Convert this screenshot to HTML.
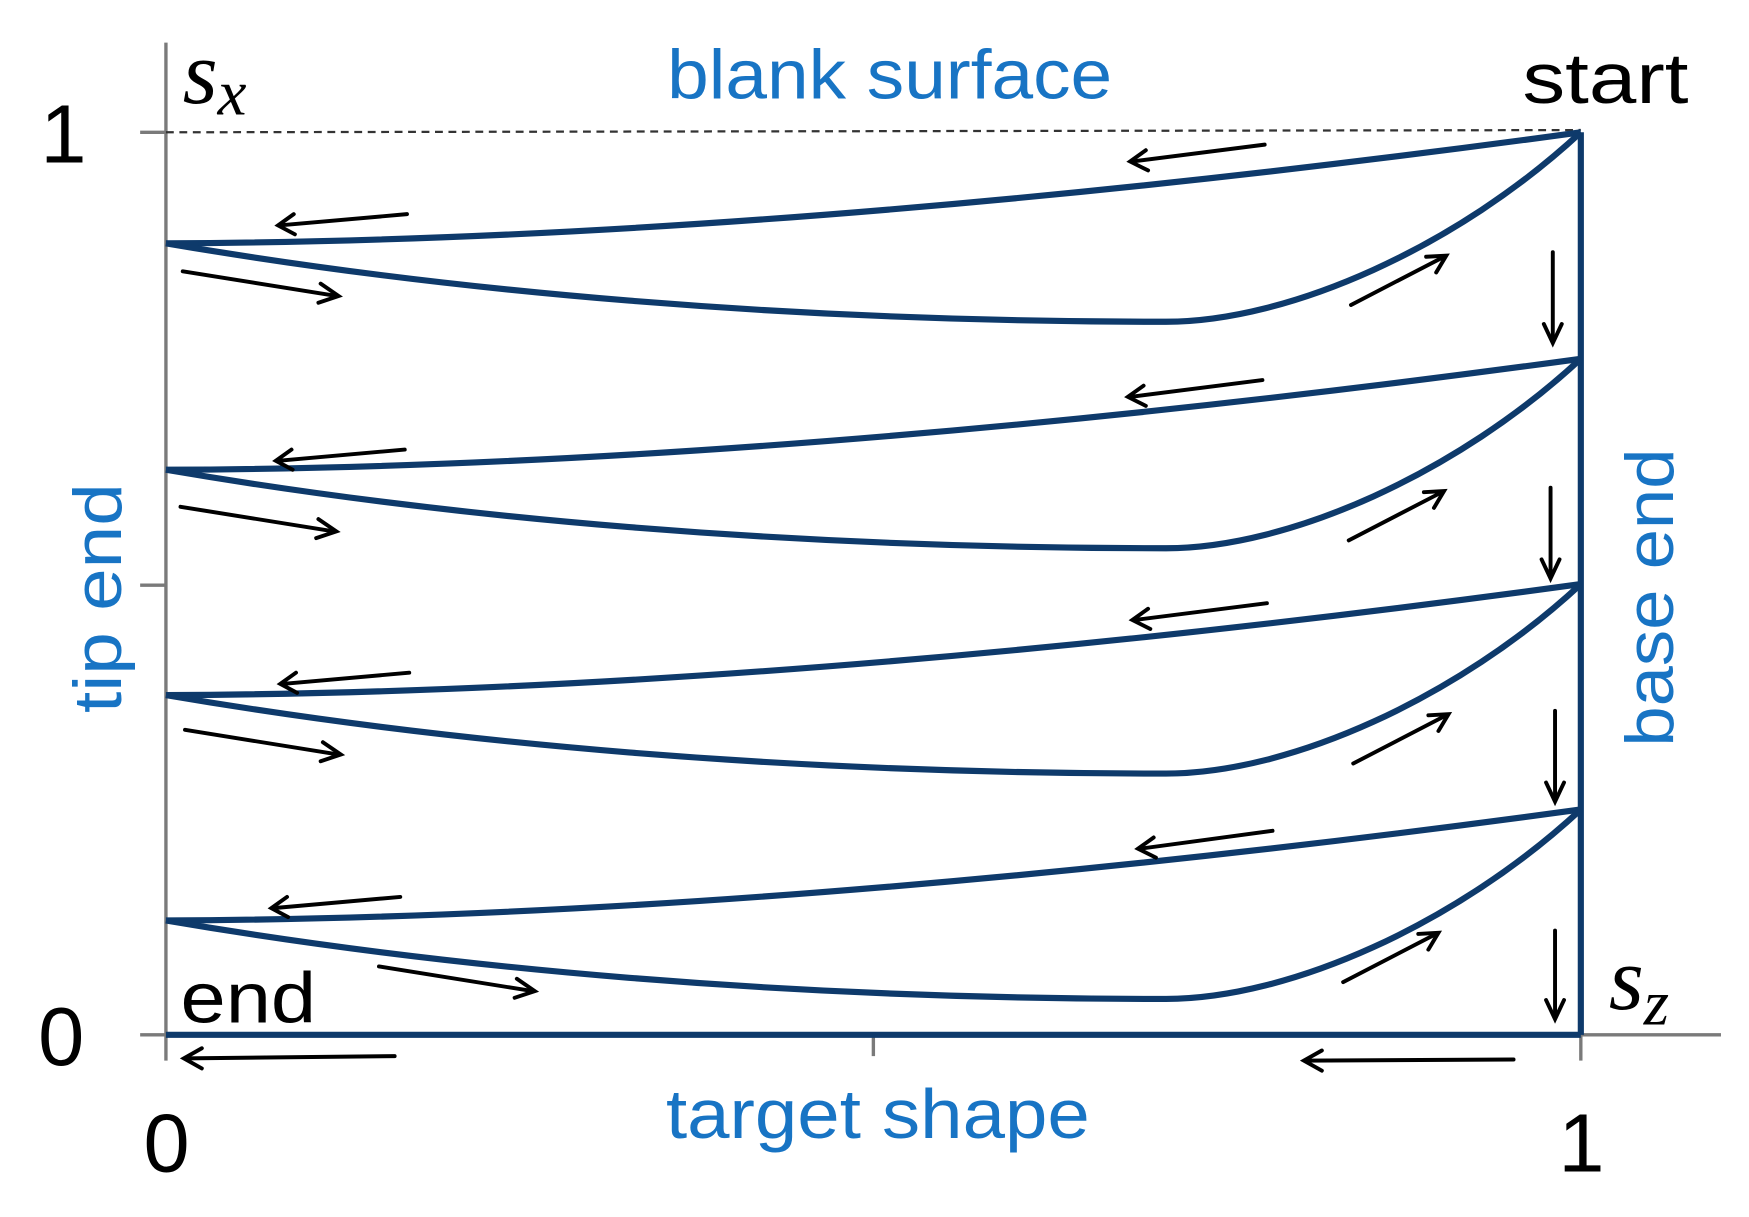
<!DOCTYPE html>
<html><head><meta charset="utf-8"><style>html,body{margin:0;padding:0;background:#fff}svg{display:block}</style></head><body>
<svg width="1749" height="1217" viewBox="0 0 1560 1085.5" preserveAspectRatio="none" xmlns="http://www.w3.org/2000/svg">
<g stroke="#7a7a7a" stroke-width="3" fill="none">
<line x1="148" y1="38" x2="148" y2="946"/>
<line x1="125" y1="923" x2="1535" y2="923"/>
<line x1="125" y1="522" x2="148" y2="522"/>
<line x1="125" y1="118" x2="148" y2="118"/>
<line x1="779" y1="923" x2="779" y2="942"/>
<line x1="1410" y1="923" x2="1410" y2="946"/>
</g>
<line x1="148" y1="118" x2="1410" y2="116" stroke="#333" stroke-width="2" stroke-dasharray="7,5"/>
<g stroke="#0e3a6b" stroke-width="5.5" fill="none">
<line x1="1410" y1="118" x2="1410" y2="923"/>
<line x1="148" y1="923" x2="1410" y2="923"/>
<g id="lv">
<path d="M148,217 Q700,215 1410,118"/>
<path d="M148,217 C400,260 700,287 1040,287 C1150,287 1300,220 1410,118"/>
</g>
<use href="#lv" transform="translate(0,202)"/>
<use href="#lv" transform="translate(0,403)"/>
<use href="#lv" transform="translate(0,604)"/>
</g>
<g stroke="#000" stroke-width="3.5" fill="none" stroke-linecap="round">
<g id="ar">
<line x1="1128" y1="129" x2="1010" y2="144"/><path d="M1022,134 L1008,144 L1024,152"/>
<line x1="363" y1="191" x2="250" y2="201"/><path d="M262,191 L248,201 L263,209"/>
<line x1="163" y1="242" x2="300" y2="264"/><path d="M286,253 L302,264 L284,270"/>
<line x1="1205" y1="272" x2="1288" y2="229"/><path d="M1272,229 L1290,228 L1281,243"/>
<line x1="1385" y1="225" x2="1385" y2="304"/><path d="M1377,289 L1385,306 L1393,289"/>
</g>
<use href="#ar" transform="translate(-2,210)"/>
<use href="#ar" transform="translate(2,409)"/>
<line x1="1135" y1="741" x2="1017" y2="757"/><path d="M1029,747 L1015,757 L1031,765"/>
<line x1="357" y1="800" x2="244" y2="810"/><path d="M256,800 L242,810 L257,818"/>
<line x1="338" y1="862" x2="475" y2="884"/><path d="M461,873 L477,884 L459,890"/>
<line x1="1198" y1="876" x2="1281" y2="833"/><path d="M1265,833 L1283,832 L1274,847"/>
<line x1="1387" y1="830" x2="1387" y2="907"/><path d="M1379,892 L1387,909 L1395,892"/>
<line x1="352" y1="942" x2="166" y2="944"/><path d="M180,935 L164,944 L180,953"/>
<line x1="1350" y1="945" x2="1165" y2="946"/><path d="M1179,937 L1163,946 L1179,955"/>
</g>
<g font-family="Liberation Sans, sans-serif">
<text x="595" y="88" font-size="62" fill="#1874c4" textLength="397" lengthAdjust="spacingAndGlyphs">blank surface</text>
<text x="594" y="1015" font-size="62" fill="#1874c4" textLength="378" lengthAdjust="spacingAndGlyphs">target shape</text>
<text x="1358" y="92" font-size="64" fill="#000" textLength="148" lengthAdjust="spacingAndGlyphs">start</text>
<text x="161" y="912" font-size="64" fill="#000" textLength="121" lengthAdjust="spacingAndGlyphs">end</text>
<text x="36" y="145" font-size="74" fill="#000">1</text>
<text x="34" y="950" font-size="74" fill="#000">0</text>
<text x="128" y="1045" font-size="74" fill="#000">0</text>
<text x="1390" y="1045" font-size="74" fill="#000">1</text>
<text transform="translate(108,636) rotate(-90)" font-size="60" fill="#1874c4" textLength="205" lengthAdjust="spacingAndGlyphs">tip end</text>
<text transform="translate(1492,666) rotate(-90)" font-size="60" fill="#1874c4" textLength="266" lengthAdjust="spacingAndGlyphs">base end</text>
</g>
<g font-family="Liberation Serif, serif" font-style="italic" fill="#000">
<text x="163" y="92" font-size="80">s<tspan font-size="58" dy="10">x</tspan></text>
<text x="1435" y="900" font-size="80">s<tspan font-size="58" dy="14">z</tspan></text>
</g>
</svg>
</body></html>
